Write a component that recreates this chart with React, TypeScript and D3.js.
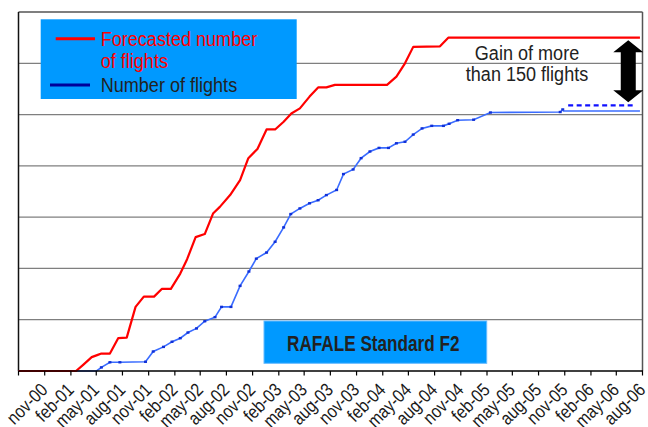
import React from 'react';
import * as d3 from 'd3';

// quarterly labels on the date axis
const tickLabels = [
  'nov-00', 'feb-01', 'may-01', 'aug-01', 'nov-01', 'feb-02', 'may-02', 'aug-02',
  'nov-02', 'feb-03', 'may-03', 'aug-03', 'nov-03', 'feb-04', 'may-04', 'aug-04',
  'nov-04', 'feb-05', 'may-05', 'aug-05', 'nov-05', 'feb-06', 'may-06', 'aug-06',
];

// forecasted cumulative number of flights
const redDates = [
  '2000-08-01', '2001-02-19', '2001-03-16', '2001-04-15', '2001-05-04', '2001-05-19',
  '2001-06-18', '2001-07-17', '2001-08-16', '2001-09-16', '2001-10-15', '2001-11-20',
  '2001-12-17', '2002-01-18', '2002-02-20', '2002-03-16', '2002-04-15', '2002-05-17',
  '2002-06-15', '2002-07-09', '2002-08-14', '2002-09-18', '2002-10-17', '2002-11-18',
  '2002-12-20', '2003-01-19', '2003-02-18', '2003-03-17', '2003-04-16', '2003-05-20',
  '2003-06-19', '2003-07-18', '2003-08-17', '2004-02-16', '2004-03-20', '2004-04-19',
  '2004-05-18', '2004-08-20', '2004-09-18', '2006-07-23',
];
const redValues = [
  0, 0, 12, 27, 31, 34, 34, 64, 65, 125, 145, 145, 160, 160, 190, 218, 261, 267, 307, 320,
  343, 372, 415, 433, 471, 471, 486, 502, 512, 535, 553, 553, 558, 558, 574, 600, 632, 633, 650, 650,
];

// actual cumulative number of flights
const blueDates = [
  '2000-08-01', '2001-05-02', '2001-05-19', '2001-06-18', '2001-07-23', '2001-10-21',
  '2001-11-17', '2001-12-23', '2002-01-22', '2002-02-20', '2002-03-19', '2002-04-18',
  '2002-05-17', '2002-06-22', '2002-07-15', '2002-08-17', '2002-09-18', '2002-10-19',
  '2002-11-14', '2002-12-20', '2003-01-19', '2003-02-18', '2003-03-15', '2003-04-16',
  '2003-05-20', '2003-06-19', '2003-07-18', '2003-08-23', '2003-09-16', '2003-10-20',
  '2003-11-17', '2003-12-18', '2004-01-19', '2004-02-21', '2004-03-20', '2004-04-19',
  '2004-05-18', '2004-06-18', '2004-07-22', '2004-09-01', '2004-09-21', '2004-10-21',
  '2004-12-16', '2005-02-13', '2005-10-16', '2005-10-25',
];
const blueValues = [
  0, 0, 7, 17, 17, 18, 38, 47, 57, 64, 75, 83, 97, 105, 125, 125, 166, 194, 219, 231,
  252, 280, 306, 317, 327, 333, 343, 353, 384, 393, 415, 428, 435, 435, 444, 447, 461, 473, 478, 478,
  482, 489, 490, 504, 505, 510,
];

// flat continuation of the actual line, dashed target and gain arrow
const projDates = ['2005-10-25', '2006-07-23'];
const projValues = [507, 507];
const targetDates = ['2005-11-13', '2006-07-06'];
const targetValues = [518, 518];
const arrowDate = '2006-06-12';
const arrowValues = [645, 524];

const gridValues = [100, 200, 300, 400, 500, 600];

const parse = d3.timeParse('%Y-%m-%d');
const parseTick = d3.timeParse('%b-%y');

const W = 648;
const H = 427;
const left = 18.5;
const right = 642.5;
const top = 12;
const bottom = 371;

const FONT = '"Liberation Sans", Arial, sans-serif';

// narrow sans: regular face squeezed horizontally
const T: React.FC<{ x: number; y: number; sx?: number; rot?: number } & React.SVGProps<SVGTextElement>> =
  ({ x, y, sx = 0.86, rot = 0, children, ...rest }) => (
    <text transform={`translate(${x},${y}) rotate(${rot}) scale(${sx},1)`} {...rest}>{children}</text>
  );

const App: React.FC = () => {
  const x = d3.scaleTime()
    .domain([parse('2000-08-01')!, parse('2006-08-01')!])
    .range([left, right]);
  const y = d3.scaleLinear().domain([0, 700]).range([bottom, top]);

  const line = d3.line<[Date, number]>()
    .x(d => x(d[0]))
    .y(d => y(d[1]));

  const red = redDates.map((d, i) => [parse(d)!, redValues[i]] as [Date, number]);
  const blue = blueDates.map((d, i) => [parse(d)!, blueValues[i]] as [Date, number]);
  const proj = projDates.map((d, i) => [parse(d)!, projValues[i]] as [Date, number]);
  const target = targetDates.map((d, i) => [parse(d)!, targetValues[i]] as [Date, number]);
  const ticks = tickLabels.map(t => ({ label: t, x: x(parseTick(t)!) }));

  const ax = x(parse(arrowDate)!);
  const aTop = y(arrowValues[0]);
  const aBot = y(arrowValues[1]);
  const hw = 15;
  const sw = 7.5;
  const hh = 12;
  const arrow = [
    [ax, aTop], [ax + hw, aTop + hh], [ax + sw, aTop + hh], [ax + sw, aBot - hh],
    [ax + hw, aBot - hh], [ax, aBot], [ax - hw, aBot - hh], [ax - sw, aBot - hh],
    [ax - sw, aTop + hh], [ax - hw, aTop + hh],
  ].map(p => p.join(',')).join(' ');

  return (
    <svg width={W} height={H} style={{ position: 'absolute', left: 0, top: 0, background: '#fff' }}
      fontFamily={FONT}>
      {/* grid */}
      {gridValues.map(v => (
        <line key={v} x1={left} x2={right} y1={y(v)} y2={y(v)} stroke="#7f7f7f" strokeWidth={1.2} />
      ))}
      <line x1={left} x2={right} y1={top} y2={top} stroke="#555" strokeWidth={1.5} />
      <line x1={right} x2={right} y1={top} y2={bottom} stroke="#555" strokeWidth={1.5} />
      <line x1={left} x2={left} y1={top} y2={bottom} stroke="#111" strokeWidth={1.5} />

      {/* series */}
      <path d={line(proj) || ''} fill="none" stroke="#3a6cff" strokeWidth={1.3} />
      <path d={line(target) || ''} fill="none" stroke="#1010ff" strokeWidth={2.2} strokeDasharray="5,3.5" />
      <path d={line(blue) || ''} fill="none" stroke="#3a6cff" strokeWidth={1.6} />
      {blue.slice(2).map((d, i) => (
        <rect key={i} x={x(d[0]) - 1.5} y={y(d[1]) - 1.2} width={3} height={2.4} fill="#1030d8" />
      ))}
      <path d={line(red) || ''} fill="none" stroke="#ff0000" strokeWidth={2.2} strokeLinejoin="round" />

      {/* x axis */}
      <line x1={left} x2={right + 0.5} y1={bottom} y2={bottom} stroke="#000" strokeWidth={1.6} />
      {[{ label: '', x: left }, ...ticks].map((t, i) => (
        <line key={i} x1={t.x} x2={t.x} y1={bottom} y2={bottom + 4.5} stroke="#000" strokeWidth={1.2} />
      ))}
      {ticks.map(t => (
        <T key={t.label} x={t.x + 4} y={bottom + 20} rot={-45} sx={0.86}
          textAnchor="end" fontSize={18.5} fill="#1a1a1a">{t.label}</T>
      ))}

      {/* legend */}
      <rect x={40.7} y={19.3} width={256} height={79.7} fill="#0099ff" />
      <line x1={55.7} x2={95} y1={38.7} y2={38.7} stroke="#ff0000" strokeWidth={3} />
      <line x1={50} x2={90} y1={85} y2={85} stroke="#000099" strokeWidth={3} />
      <T x={100.7} y={45.7} fontSize={21} fill="#ff0000">Forecasted number</T>
      <T x={100.7} y={68.3} fontSize={21} fill="#ff0000">of flights</T>
      <T x={100.7} y={91.7} fontSize={21} fill="#222">Number of flights</T>

      {/* gain annotation */}
      <T x={527} y={60} fontSize={21} fill="#222" textAnchor="middle">Gain of more</T>
      <T x={527} y={81} fontSize={21} fill="#222" textAnchor="middle">than 150 flights</T>
      <polygon points={arrow} fill="#000" />

      {/* title box */}
      <rect x={264} y={321} width={222.7} height={42.3} fill="#0099ff" stroke="#66bbff" strokeWidth={1} />
      <T x={373.3} y={351} sx={0.78} fontSize={22} fontWeight="bold" fill="#222" textAnchor="middle">
        RAFALE Standard F2
      </T>
    </svg>
  );
};

export default App;
